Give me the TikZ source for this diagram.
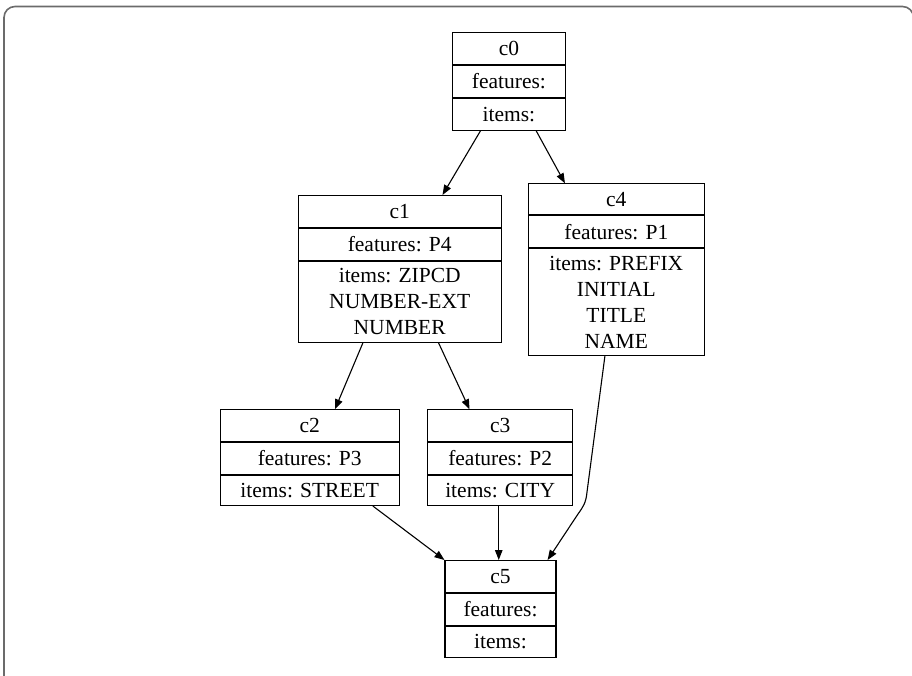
\documentclass[tikz,border=0pt]{standalone}
\usepackage{fontspec}
\setmainfont{Liberation Serif}
\usetikzlibrary{arrows.meta,calc}

\tikzset{
  cell/.style={draw=black, line width=1.1pt, inner sep=0pt, align=center,
    font=\fontsize{21.5}{26}\selectfont, anchor=north},
  edge/.style={line width=1.1pt, -{Triangle[length=10pt,width=7.5pt]}},
  frame/.style={draw=black!58, line width=1.6pt, rounded corners=11pt}
}

\begin{document}
\begin{tikzpicture}[x=1pt, y=-1pt]
\useasboundingbox (0,0) rectangle (912,676);
\clip (0,0) rectangle (912,676);

% outer frame
\draw[frame] (4,6.5) rectangle (913.5,720);

% class boxes: header, features row and items row stacked
\node[cell, minimum width=112.3pt, minimum height=31.7pt] (c0-t) at (508.9,32.3) {c0};
\node[cell, minimum width=112.3pt, minimum height=31.7pt] (c0-f) at (c0-t.south) {features:};
\node[cell, minimum width=112.3pt, minimum height=31.7pt] (c0-i) at (c0-f.south) {items:};

\node[cell, minimum width=202.7pt, minimum height=31.7pt] (c1-t) at (399.7,195) {c1};
\node[cell, minimum width=202.7pt, minimum height=32.3pt] (c1-f) at (c1-t.south) {features: P4};
\node[cell, minimum width=202.7pt, minimum height=80.3pt] (c1-i) at (c1-f.south) {items: ZIPCD\\NUMBER-EXT\\NUMBER};

\node[cell, minimum width=176pt, minimum height=31pt] (c4-t) at (616.3,183.3) {c4};
\node[cell, minimum width=176pt, minimum height=31.7pt] (c4-f) at (c4-t.south) {features: P1};
\node[cell, minimum width=176pt, minimum height=106.3pt] (c4-i) at (c4-f.south) {items: PREFIX\\INITIAL\\TITLE\\NAME};

\node[cell, minimum width=179.3pt, minimum height=31.7pt] (c2-t) at (309.7,409.3) {c2};
\node[cell, minimum width=179.3pt, minimum height=31.7pt] (c2-f) at (c2-t.south) {features: P3};
\node[cell, minimum width=179.3pt, minimum height=30pt] (c2-i) at (c2-f.south) {items: STREET};

\node[cell, minimum width=145pt, minimum height=31.7pt] (c3-t) at (500.2,409.3) {c3};
\node[cell, minimum width=145pt, minimum height=31.7pt] (c3-f) at (c3-t.south) {features: P2};
\node[cell, minimum width=145pt, minimum height=30pt] (c3-i) at (c3-f.south) {items: CITY};

\node[cell, minimum width=111pt, minimum height=31.7pt] (c5-t) at (500.5,560) {c5};
\node[cell, minimum width=111pt, minimum height=31.7pt] (c5-f) at (c5-t.south) {features:};
\node[cell, minimum width=111pt, minimum height=31.7pt] (c5-i) at (c5-f.south) {items:};

% connectors
\draw[edge] ($(c0-i.south west)!0.25!(c0-i.south east)$) -- ($(c1-t.north west)!0.71!(c1-t.north east)$);
\draw[edge] ($(c0-i.south west)!0.74!(c0-i.south east)$) -- ($(c4-t.north west)!0.21!(c4-t.north east)$);
\draw[edge] ($(c1-i.south west)!0.32!(c1-i.south east)$) -- ($(c2-t.north west)!0.64!(c2-t.north east)$);
\draw[edge] ($(c1-i.south west)!0.69!(c1-i.south east)$) -- ($(c3-t.north west)!0.29!(c3-t.north east)$);
\draw[edge] ($(c2-i.south west)!0.85!(c2-i.south east)$) -- (c5-t.north west);
\coordinate (s35) at ($(c3-i.south west)!0.49!(c3-i.south east)$);
\draw[edge] (s35) -- (s35 |- c5-t.north);
\coordinate (bendA) at (587,492);
\coordinate (bendB) at (578,514);
\draw[edge] ($(c4-i.south west)!0.436!(c4-i.south east)$) -- (bendA)
  .. controls (586,503) and (583,507) .. (bendB)
  -- ($(c5-t.north west)!0.92!(c5-t.north east)$);
\end{tikzpicture}
\end{document}
